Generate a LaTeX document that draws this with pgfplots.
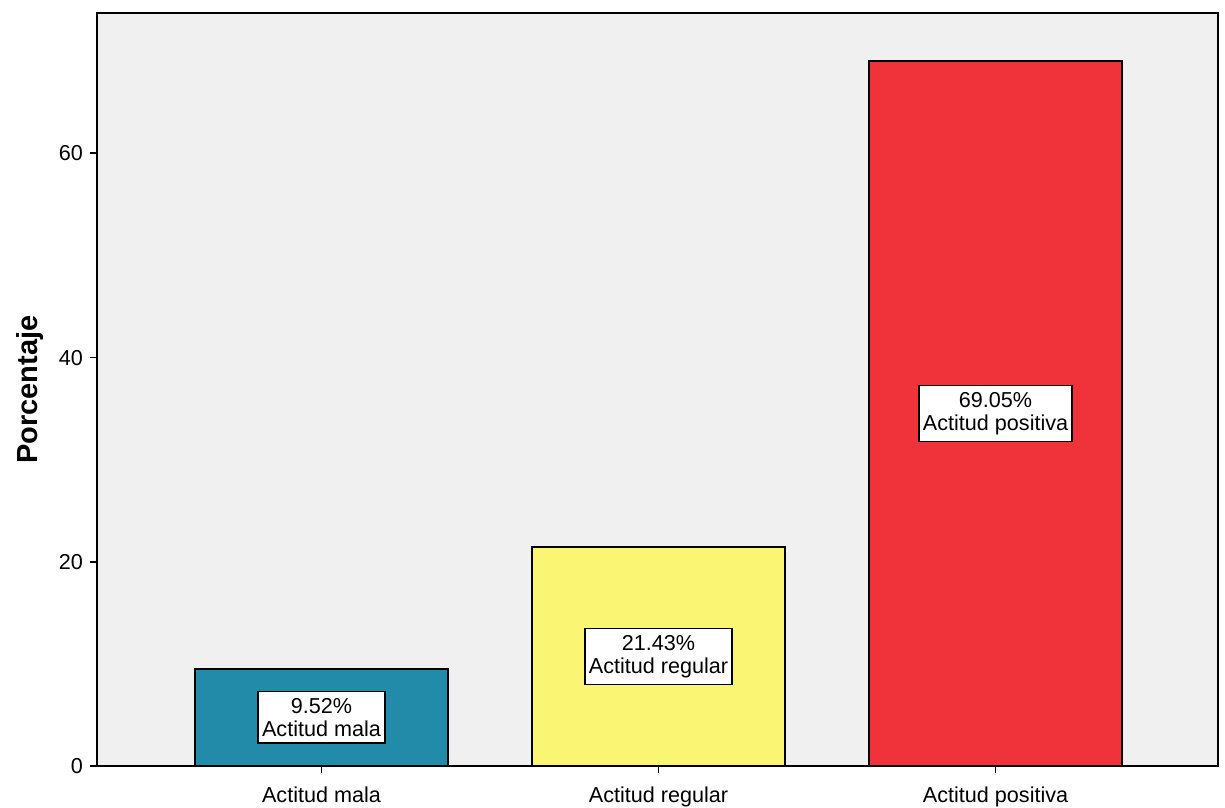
\documentclass[border=0pt]{standalone}
\usepackage{pgfplots}
\pgfplotsset{compat=1.18}
\usepackage{fontspec}
\setmainfont{Liberation Sans}

\definecolor{bgGrey}{RGB}{240,240,240}
\definecolor{barTeal}{RGB}{35,139,170}
\definecolor{barYellow}{RGB}{250,246,115}
\definecolor{barRed}{RGB}{240,50,58}

% size of the value/label boxes inside the bars
\newcommand{\labfont}{\fontsize{10.8bp}{11.6bp}\selectfont}
% percentage printed with two decimals
\newcommand{\pct}{\pgfmathprintnumber[fixed,precision=2,fixed zerofill]{\pgfplotspointmeta}\%}

\begin{document}
\begin{tikzpicture}
\useasboundingbox (-48.5bp,-21bp) rectangle (564bp,383bp);
\begin{axis}[
  scale only axis,
  width=560.5bp, height=376.5bp,
  xmin=-0.666, xmax=2.66,
  ymin=0, ymax=73.75,
  axis background/.style={fill=bgGrey},
  axis line style={line width=1bp, black},
  ybar, bar width=0.75, bar shift=0pt,
  xtick={0,1,2},
  xticklabels={Actitud mala, Actitud regular, Actitud positiva},
  ytick={0,20,40,60},
  xtick pos=bottom, ytick pos=left,
  tick align=outside,
  major tick length=3.5bp,
  tick style={line width=0.9bp, black},
  x tick label style={font=\fontsize{10.8bp}{12bp}\selectfont, yshift=-3.5bp},
  y tick label style={font=\fontsize{10.8bp}{12bp}\selectfont},
  /pgf/number format/assume math mode=true,
  ylabel={Porcentaje},
  ylabel style={font=\bfseries\fontsize{14.5bp}{16bp}\selectfont,
    at={(axis description cs:-0.0598,0.5)}, anchor=center},
  every axis plot/.append style={draw=black, line width=0.75bp},
  point meta=rawy,
  visualization depends on={rawy \as \ry},
  nodes near coords align={center},
  every node near coord/.append style={
    anchor=center, yshift=-\ry*2.5525bp,
    fill=white, draw=black, line width=0.8bp,
    align=center, inner xsep=2bp, inner ysep=3.3bp, font=\labfont, text=black},
]
\addplot[fill=barTeal,
  nodes near coords={\pct\\Actitud mala}]
  coordinates {(0,9.52)};
\addplot[fill=barYellow,
  nodes near coords={\pct\\Actitud regular}]
  coordinates {(1,21.43)};
\addplot[fill=barRed,
  nodes near coords={\pct\\Actitud positiva}]
  coordinates {(2,69.05)};
\end{axis}
\end{tikzpicture}
\end{document}
